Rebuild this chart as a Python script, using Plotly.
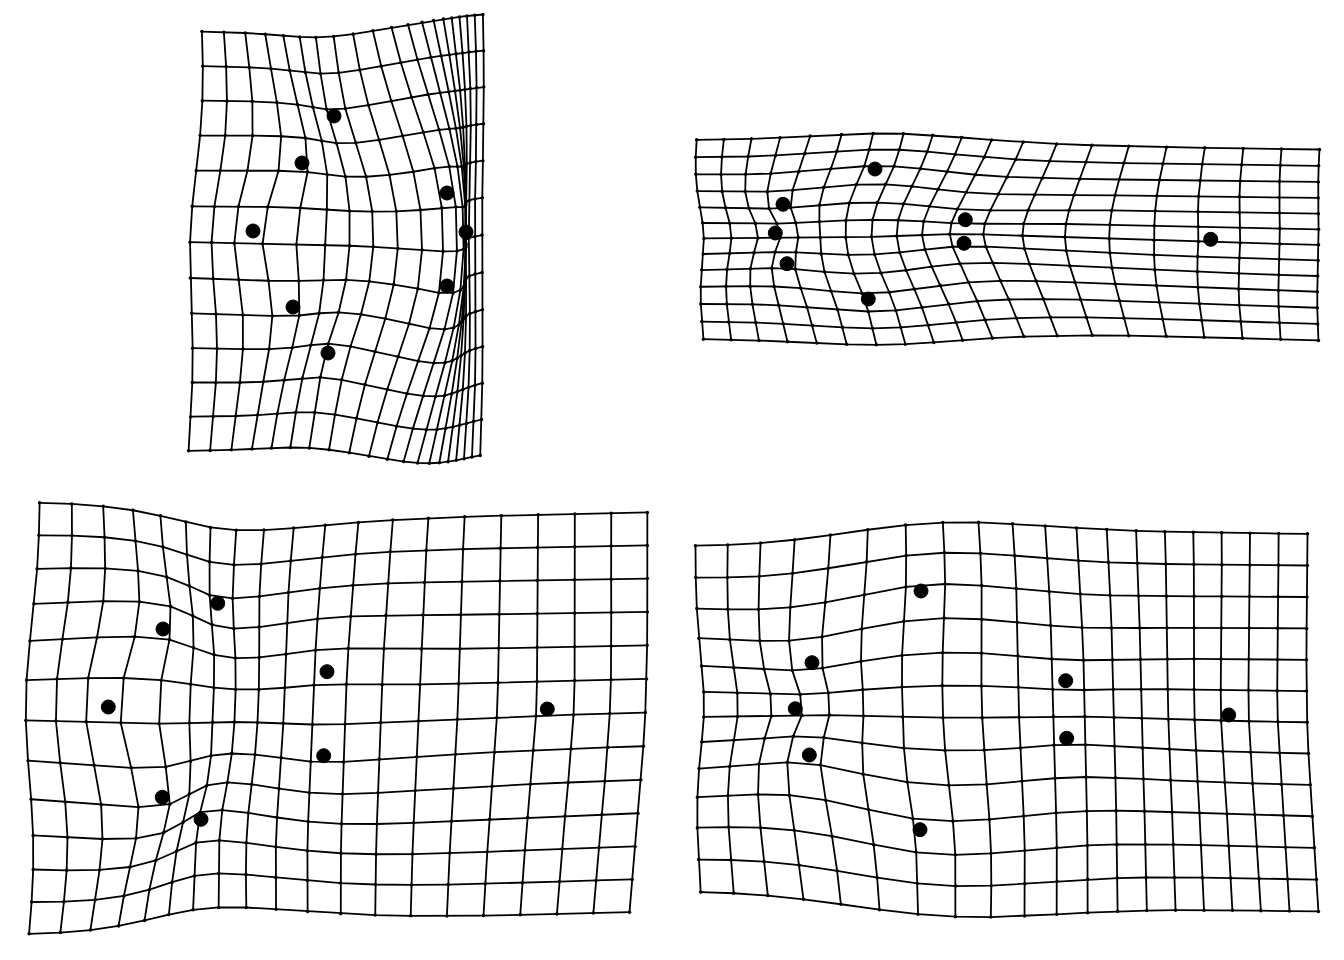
import numpy as np
import plotly.graph_objects as go

# Landmark order: A, B, C, D, E, F, G, H
# Consensus (reference) configuration, in reference grid units (y up)
REF_X = [6.42, 3.80, 2.80, 3.78, 10.40, 10.40, 16.22, 6.18]
REF_Y = [-2.214, -3.77, -5.651, -7.70, -4.669, -6.781, -5.799, -9.236]

# Target configurations (as placed on the page), one per panel
P1_X = [334.0, 302.0, 253.0, 293.0, 447.0, 447.0, 466.0, 328.0]
P1_Y = [116.0, 163.0, 231.0, 307.0, 193.0, 286.0, 232.0, 353.0]

P2_X = [875.0, 783.0, 775.3, 787.0, 965.3, 964.0, 1210.7, 868.3]
P2_Y = [169.0, 204.3, 233.0, 263.7, 219.7, 243.3, 239.3, 299.0]

P3_X = [217.7, 163.0, 108.3, 162.3, 327.0, 323.7, 547.3, 201.0]
P3_Y = [603.3, 629.0, 707.0, 797.3, 671.7, 755.7, 709.0, 819.3]

P4_X = [921.0, 812.0, 795.3, 809.3, 1065.7, 1066.7, 1228.7, 920.0]
P4_Y = [591.0, 662.7, 708.7, 755.0, 680.7, 738.3, 715.0, 829.7]

N_COL_CELL = 20
PAGE_MARGIN = 8  # default body margin of the html page


def tps2d(M, matr, matt):
    p = matr.shape[0]
    d2 = ((matr[:, None, :] - matr[None, :, :]) ** 2).sum(-1)
    with np.errstate(divide="ignore", invalid="ignore"):
        P = np.where(d2 > 0, d2 * np.log(d2), 0.0)
    Q = np.hstack([np.ones((p, 1)), matr])
    L = np.zeros((p + 3, p + 3))
    L[:p, :p] = P
    L[:p, p:] = Q
    L[p:, :p] = Q.T
    rhs = np.vstack([matt, np.zeros((3, 2))])
    coef = np.linalg.solve(L, rhs)
    z = ((M[:, None, :] - matr[None, :, :]) ** 2).sum(-1)
    with np.errstate(divide="ignore", invalid="ignore"):
        U = np.where(z > 0, z * np.log(z), 0.0)
    out = U @ coef[:p] + coef[p] + M[:, [0]] * coef[p + 1] + M[:, [1]] * coef[p + 2]
    return out


def warped_grid(matr, matt, n):
    xm, ym = matr.min(0)
    xM, yM = matr.max(0)
    rX = xM - xm
    rY = yM - ym
    a = np.linspace(xm - rX / 5, xM + rX / 5, n)
    step = rX * 7 / (5 * (n - 1))
    b = np.arange(ym - rX / 5, yM + rX / 5 + 1e-9, step)
    m = int(np.floor(0.5 + (n - 1) * (2 / 5 * rX + rY) / (2 / 5 * rX + rX) + 0.5))
    b = b[:m]
    m = len(b)
    AA, BB = np.meshgrid(a, b)  # rows: constant b
    M = np.column_stack([AA.ravel(), BB.ravel()])
    g = tps2d(M, matr, matt)
    return g.reshape(m, n, 2)


ref = np.column_stack([REF_X, REF_Y])
targets = [
    np.column_stack([P1_X, P1_Y]),
    np.column_stack([P2_X, P2_Y]),
    np.column_stack([P3_X, P3_Y]),
    np.column_stack([P4_X, P4_Y]),
]

fig = go.Figure()
for tgt in targets:
    G = warped_grid(ref, tgt, N_COL_CELL)
    m, n, _ = G.shape
    xs, ys = [], []
    for i in range(m):
        xs += list(G[i, :, 0]) + [None]
        ys += list(G[i, :, 1]) + [None]
    for j in range(n):
        xs += list(G[:, j, 0]) + [None]
        ys += list(G[:, j, 1]) + [None]
    fig.add_trace(go.Scatter(x=xs, y=ys, mode="lines",
                             line=dict(color="black", width=1.8),
                             hoverinfo="skip", showlegend=False))
    fig.add_trace(go.Scatter(x=G[:, :, 0].ravel(), y=G[:, :, 1].ravel(), mode="markers",
                             marker=dict(color="black", size=3.5),
                             hoverinfo="skip", showlegend=False))
    fig.add_trace(go.Scatter(x=tgt[:, 0], y=tgt[:, 1], mode="markers",
                             marker=dict(color="black", size=14,
                                         line=dict(color="black", width=1)),
                             showlegend=False))

W, H = 1344, 960
fig.update_layout(
    width=W - 2 * PAGE_MARGIN, height=H - 2 * PAGE_MARGIN,
    margin=dict(l=0, r=0, t=0, b=0),
    paper_bgcolor="white", plot_bgcolor="white",
    xaxis=dict(range=[PAGE_MARGIN, W - PAGE_MARGIN], visible=False,
               showgrid=False, zeroline=False),
    yaxis=dict(range=[H - PAGE_MARGIN, PAGE_MARGIN], visible=False,
               showgrid=False, zeroline=False),
)
fig.write_html("out.html")
